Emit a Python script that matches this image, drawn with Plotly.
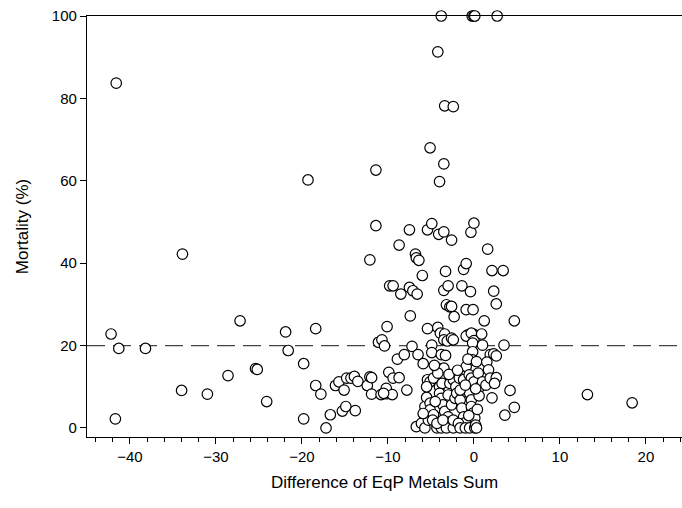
import plotly.graph_objects as go

# Difference of EqP Metals Sum (x) and Mortality % (y)
x_vals = [
    -42.2, -41.3, -38.2, -41.7, -41.6,
    -33.9, -34.0, -31.0, -28.6, -27.2,
    -25.4, -25.2, -24.1, -21.9, -21.6,
    -19.8, -19.8, -19.3, -18.4, -18.4, -17.8,
    -17.2, -16.7, -16.1, -15.7, -15.1, -15.3, -14.9,
    -14.8, -14.3, -13.9, -13.8, -13.5,
    -12.4, -12.1, -11.9, -11.9, -12.1, -11.4, -11.4,
    -11.1, -10.7, -10.4, -10.1, -9.8,
    -10.8, -10.2, -10.2, -9.9, -9.4, -8.7, -9.5, -10.5,
    -9.4, -8.7, -8.5, -7.5, -7.1, -6.6,
    -7.5, -6.8, -6.7, -6.4, -6.0, -7.4,
    -8.9, -8.1, -7.2, -6.5, -5.9, -7.8,
    -6.7, -6.1, -5.7, -5.7, -5.3, -5.5, -5.1, -5.1, -4.7, -4.8,
    -5.4, -5.1, -4.7, -5.5, -5.4,
    -5.1, -5.4, -4.9, -4.2, -3.8,
    -4.9, -4.9,
    -4.1, -3.5, -2.6, -3.5, -4.0, -3.4, -2.4,
    -3.3, -3.5, -3.0, -3.2, -2.8, -2.6, -2.3,
    -4.2, -3.9, -3.4, -3.5, -3.1, -2.6, -2.4,
    -3.8, -3.3, -4.3, -3.5, -4.2,
    -4.0, -3.7, -4.0, -3.8, -3.6, -3.4, -3.0, -2.8, -4.5, -3.0,
    -4.3, -3.8, -3.2, -4.3, -3.6,
    -2.8, -2.4, -2.1, -2.6, -2.2, -2.0, -2.4, -2.4,
    -1.7, -1.2, -0.9, -0.55, -0.3, 0.0, 0.5,
    -1.6, -1.4, -1.2, -1.0, -1.8, -1.6, -1.0, -0.5, 0.1,
    -0.5, -0.3, -0.3, -0.1, 0.1, 0.2, 0.3,
    -1.6, -1.0, 0.7,
    -1.4, -0.4, -1.2, -0.9, -0.9, -0.1,
    -0.35, 0.0, -0.2, 0.0, 0.1,
    -0.7, 0.0, -0.35, -0.9, -0.3, 0.0,
    -0.15, -0.15, -0.15, -0.7, 0.3,
    0.9, 1.0, 1.2, 1.6, 2.1, 3.4, 2.3, 2.6, 2.7, 4.7, 3.5,
    1.9, 2.3, 1.5, 1.7, 2.6,
    1.0, 1.4, 1.9, 2.6, 2.4, 2.1, 4.2, 3.6, 4.7,
    0.4, 0.6, -0.6, 0.2, -5.9, -4.6, -2.9, -1.9,
    13.2, 18.4,
]
y_vals = [
    22.8, 19.3, 19.3, 2.2, 83.7,
    42.2, 9.1, 8.2, 12.7, 26.0,
    14.4, 14.2, 6.4, 23.3, 18.8,
    15.6, 2.2, 60.2, 24.1, 10.3, 8.2,
    0.0, 3.2, 10.3, 11.2, 9.2, 4.1, 5.2,
    12.1, 12.1, 12.5, 4.2, 11.3,
    10.3, 12.4, 12.2, 8.2, 40.8, 62.6, 49.1,
    20.8, 21.4, 19.9, 24.6, 34.5,
    8.1, 8.3, 9.6, 13.5, 12.1, 12.2, 8.1, 8.4,
    34.5, 44.4, 32.5, 34.1, 33.3, 32.5,
    48.1, 42.2, 41.3, 40.7, 37.0, 27.2,
    16.7, 17.8, 19.8, 17.8, 15.6, 9.2,
    0.3, 1.1, 0.0, 5.2, 1.9, 7.4, 6.0, 4.4, 3.2, 1.9,
    11.7, 11.2, 12.1, 10.0, 24.1,
    68.0, 48.1, 49.6, 91.3, 100.0,
    20.1, 18.3,
    47.0, 47.6, 45.6, 64.1, 59.8, 78.2, 78.0,
    38.0, 33.4, 34.5, 29.9, 29.4, 29.5, 27.0,
    24.4, 23.0, 22.8, 21.4, 21.1, 21.8, 21.4,
    17.8, 17.6, 14.6, 14.5, 13.3,
    10.0, 10.8, 8.4, 7.2, 5.6, 4.0, 2.7, 1.5, 6.4, 8.0,
    0.0, 0.0, 0.0, 1.1, 1.9,
    10.8, 11.7, 10.0, 5.6, 7.2, 8.4, 0.0, 1.9,
    12.1, 11.7, 14.9, 12.9, 12.1, 11.2, 13.3,
    6.8, 4.8, 2.7, 1.3, 1.1, 0.0, 0.0, 0.0, 0.0,
    8.4, 6.8, 5.2, 3.6, 2.4, 0.7, 0.0,
    9.2, 10.4, 10.0,
    34.5, 33.1, 38.5, 39.9, 28.7, 28.7,
    47.5, 49.7, 100.0, 100.0, 100.0,
    22.6, 22.7, 22.1, 22.3, 23.0, 21.2,
    20.6, 18.5, 16.5, 16.7, 16.1,
    22.8, 20.1, 26.0, 43.4, 38.2, 38.2, 33.2, 30.1, 100.0, 26.0, 20.1,
    17.8, 18.0, 16.0, 14.1, 17.5,
    11.2, 10.4, 12.1, 12.2, 10.8, 7.3, 9.1, 3.1, 5.0,
    4.5, 7.8, 3.0, 9.5, 3.5, 15.2, 13.0, 14.0,
    8.1, 6.1,
]

x_ticks = [-40, -30, -20, -10, 0, 10, 20]
y_ticks = [0, 20, 40, 60, 80, 100]
threshold = 20

FONT = "Liberation Sans, Arial, Helvetica, sans-serif"

fig = go.Figure()
fig.add_trace(go.Scatter(
    x=x_vals, y=y_vals, mode="markers",
    marker=dict(symbol="circle", size=10.5, color="white",
                line=dict(color="black", width=1.2)),
    cliponaxis=False, showlegend=False, hoverinfo="x+y",
))

fig.add_shape(type="line", xref="paper", yref="y", x0=0, x1=1,
              y0=threshold, y1=threshold, layer="below",
              line=dict(color="#444444", width=1.3, dash="18px,8px"))

fig.update_layout(
    width=682, height=508,
    margin=dict(l=87, r=0, t=16, b=71),
    paper_bgcolor="white", plot_bgcolor="white",
    font=dict(family=FONT, color="black", size=15),
)
fig.update_xaxes(
    range=[-45.0, 24.2], tickvals=x_ticks, ticks="outside", ticklen=6,
    tickwidth=1, tickcolor="black", showline=True, linecolor="black",
    linewidth=1.2, mirror=True, showgrid=False, zeroline=False,
    tickfont=dict(size=15),
    minor=dict(dtick=2, tick0=0, ticks="outside", ticklen=4,
               tickcolor="black", tickwidth=1, showgrid=False),
    title=dict(text="Difference of EqP Metals Sum", font=dict(size=17),
               standoff=12),
)
fig.update_yaxes(
    range=[-2.2, 100], tickvals=y_ticks, ticks="outside", ticklen=6,
    tickwidth=1, tickcolor="black", showline=True, linecolor="black",
    linewidth=1.2, showgrid=False, zeroline=False,
    tickfont=dict(size=15),
    title=dict(text="Mortality (%)", font=dict(size=17), standoff=18),
)

fig.write_html("out.html")
